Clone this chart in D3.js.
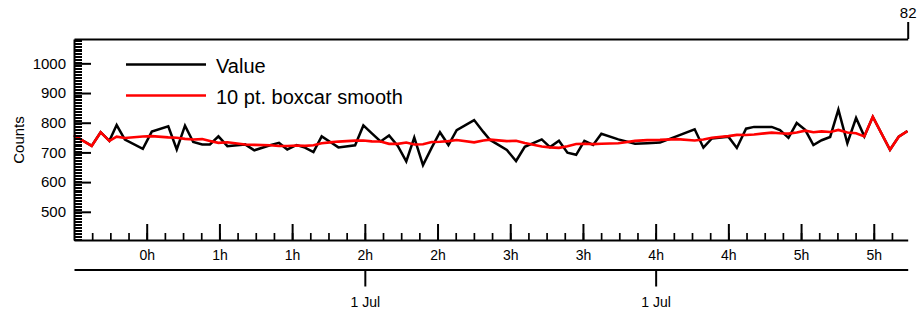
<!DOCTYPE html>
<html>
<head>
<meta charset="utf-8">
<script src="https://cdn.jsdelivr.net/npm/d3@7"></script>
<style>
  body { margin: 0; background: #fff; }
  svg { display: block; font-family: "Liberation Sans", Arial, sans-serif; }
</style>
</head>
<body>
<script>
var width = 919, height = 315;

// sample times, minutes after midnight on 1 Jul
var minutes = [0, 3.6, 7.3, 11.0, 14.6, 17.6, 21.0, 28.4, 32.1, 38.9,
  42.4, 45.8, 49.2, 52.9, 56.1, 59.6, 63.3, 70.6, 74.4, 80.9,
  84.6, 88.0, 91.9, 95.3, 98.8, 102.2, 105.6, 109.1, 116.0, 119.4,
  122.9, 126.5, 130.0, 133.6, 137.1, 140.4, 144.0, 147.6, 151.0, 154.5,
  157.9, 165.1, 168.9, 171.7, 178.6, 182.4, 186.0, 193.0, 196.4, 200.1,
  203.6, 207.2, 210.6, 214.2, 217.6, 224.6, 231.5, 236.5, 241.8, 248.8,
  256.1, 259.7, 263.2, 270.0, 273.5, 277.3, 280.6, 287.9, 291.3, 294.8,
  298.2, 301.7, 305.1, 308.5, 312.0, 315.4, 319.1, 322.7, 326.1, 329.6,
  336.7, 340.3, 343.9];
var counts = [758, 740, 722, 768, 739, 792, 743, 712, 770, 788,
  710, 790, 735, 727, 727, 754, 721, 727, 707, 724,
  732, 710, 725, 716, 701, 754, 736, 717, 724, 791,
  764, 737, 757, 722, 670, 750, 657, 716, 768, 725,
  775, 809, 769, 742, 708, 671, 719, 744, 718, 739,
  699, 692, 739, 725, 763, 744, 729, 731, 733, 755,
  778, 716, 747, 753, 715, 780, 786, 786, 775, 749,
  799, 776, 725, 741, 752, 844, 731, 816, 754, 820,
  709, 753, 772];
var yTicks = [500, 600, 700, 800, 900, 1000];
var seriesNames = ["Value", "10 pt. boxcar smooth"];

var day = new Date(2024, 6, 1);
var data = minutes.map(function(m, i){
  return { t: new Date(+day + m * 60000), v: counts[i] };
});

// 10 pt boxcar, ends left as they are
data.forEach(function(d, i){
  if (i < 5 || i > data.length - 6) d.s = d.v;
  else d.s = d3.mean(counts.slice(i - 5, i + 5));
});

var svg = d3.select("body")
    .append("svg")
    .attr("width", width)
    .attr("height", height);

var x = d3.scaleTime()
    .domain([day, d3.timeMinute.offset(day, 344)])
    .range([74, 907.7]);

var y = d3.scaleLinear()
    .domain([405, 1082])
    .range([240, 39]);

var line = d3.line().x(function(d){ return x(d.t); }).y(function(d){ return y(d.v); });
var smoothLine = d3.line().x(function(d){ return x(d.t); }).y(function(d){ return y(d.s); });

svg.append("path")
    .datum(data)
    .attr("fill", "none")
    .attr("stroke", "#000")
    .attr("stroke-width", 2.5)
    .attr("d", line);

svg.append("path")
    .datum(data)
    .attr("fill", "none")
    .attr("stroke", "#ff0000")
    .attr("stroke-width", 2.6)
    .attr("d", smoothLine);

function styleAxis(g, size){
  g.attr("font-family", null).attr("font-size", null);
  g.select(".domain").attr("stroke-width", 2);
  g.selectAll(".tick line").attr("stroke-width", 2);
  g.selectAll("text").attr("font-size", size).attr("fill", "#000");
}

// left axis, dense minor ticks
var yMinor = d3.range(405, 1082, 5);
svg.append("g")
    .attr("transform", "translate(74,0)")
    .call(d3.axisLeft(y).tickValues(yMinor).tickSize(-8).tickSizeOuter(0).tickFormat(""))
    .call(function(g){
      g.select(".domain").remove();
      g.selectAll(".tick line").attr("stroke-width", 1).attr("shape-rendering", "crispEdges");
    });

svg.append("g")
    .attr("transform", "translate(74,0)")
    .call(d3.axisLeft(y).tickValues(yTicks).tickSize(-17).tickSizeOuter(0).tickPadding(8)
      .tickFormat(d3.format("d")))
    .call(styleAxis, 15);

svg.append("text")
    .attr("transform", "translate(23.5,140) rotate(-90)")
    .attr("text-anchor", "middle")
    .attr("font-size", 15)
    .text("Counts");

// bottom time axis
var start = x.domain()[0], end = x.domain()[1];
var xMajor = x.ticks(d3.timeMinute.every(30)).filter(function(d){ return +d > +start; });
var xMinor = d3.range(7.5, 344, 7.5).map(function(m){ return new Date(+day + m * 60000); });

svg.append("g")
    .attr("transform", "translate(0,240)")
    .call(d3.axisBottom(x).tickValues(xMinor).tickSize(-7).tickSizeOuter(0).tickFormat(""))
    .call(function(g){ g.select(".domain").remove(); g.selectAll(".tick line").attr("stroke-width", 1.7); });

svg.append("g")
    .attr("transform", "translate(0,240)")
    .call(d3.axisBottom(x).tickValues(xMajor).tickSize(-16).tickSizeOuter(0).tickPadding(10)
      .tickFormat(d3.timeFormat("%-Hh")))
    .call(styleAxis, 14);

// date axis
svg.append("g")
    .attr("transform", "translate(0,269.5)")
    .call(d3.axisBottom(x).tickValues(x.ticks(d3.timeHour.every(2)).filter(function(d){ return +d > +start; }))
      .tickSize(17).tickSizeOuter(0).tickPadding(11).tickFormat(d3.timeFormat("%-d %b")))
    .call(styleAxis, 14);

// top axis, last point number
svg.append("g")
    .attr("transform", "translate(0,39)")
    .call(d3.axisTop(x).tickValues([end]).tickSize(17).tickSizeOuter(0).tickPadding(4)
      .tickFormat(function(){ return data.length - 1; }))
    .call(styleAxis, 15);

// legend
var legend = svg.append("g").selectAll("g")
    .data(seriesNames)
  .enter().append("g")
    .attr("transform", function(d, i){ return "translate(126," + (64.5 + i * 31) + ")"; });

legend.append("line")
    .attr("x1", 0).attr("x2", 80)
    .attr("stroke", function(d, i){ return i ? "#ff0000" : "#000"; })
    .attr("stroke-width", 2.5);

legend.append("text")
    .attr("x", 90)
    .attr("y", 8.5)
    .attr("font-size", 20)
    .text(function(d){ return d; });
</script>
</body>
</html>
